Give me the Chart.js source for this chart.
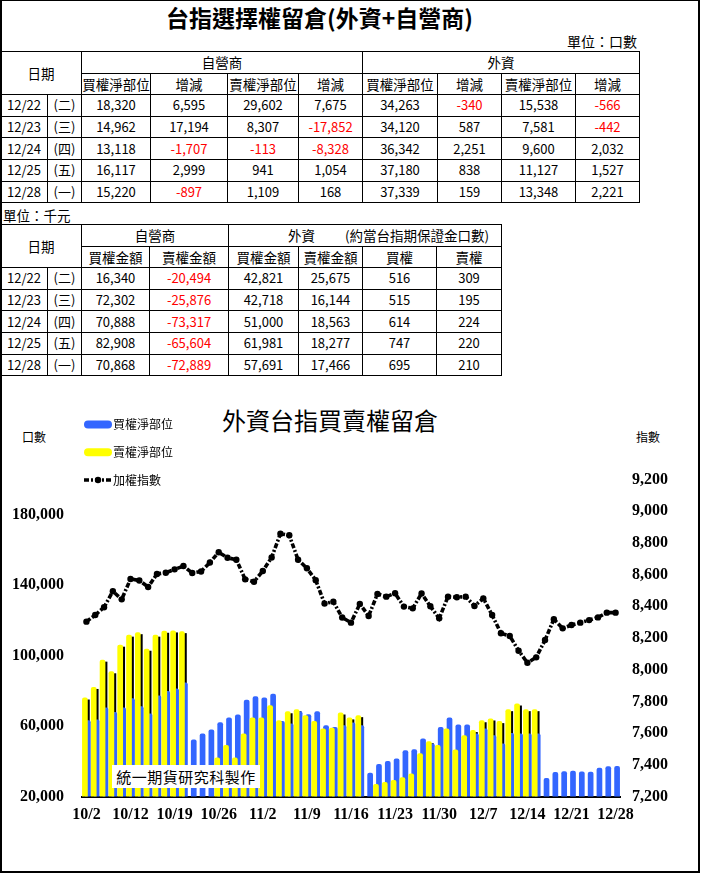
<!DOCTYPE html>
<html>
<head>
<meta charset="utf-8">
<script src="https://cdn.jsdelivr.net/npm/chart.js@4.4.1/dist/chart.umd.min.js"></script>
<style>
  html, body { margin: 0; padding: 0; background: #fff; }
  body { width: 702px; height: 874px; position: relative; overflow: hidden;
         font-family: "Noto Sans CJK TC", "Noto Sans", sans-serif; color: #000; }
  .frame { position: absolute; left: 0; top: 0; width: 696px; height: 870px;
           border: 2px solid #000; border-top-width: 1px; }
  .abs { position: absolute; white-space: nowrap; }
  .title { left: 0; top: 4px; width: 639px; text-align: center; font-size: 23px; font-weight: bold; line-height: 26px; }
  .unit1 { left: 0; top: 32px; width: 637px; text-align: right; font-size: 14px; line-height: 18px; }
  .unit2 { left: 3px; top: 206px; font-size: 13.5px; line-height: 18px; }
  table { position: absolute; left: 0; border-collapse: collapse; table-layout: fixed; font-size: 13px; }
  td { border: 1px solid #000; padding: 0; text-align: center; vertical-align: middle; height: 20.6px; line-height: 14px; white-space: nowrap; overflow: hidden; }
  td.h { font-size: 13.5px; }
  .neg { color: #ff0000; }
  #t1 { top: 51px; width: 640px; }
  #t2 { top: 224px; width: 502px; }
  .ctitle { left: 222px; top: 405px; width: 216px; text-align: center; font-size: 24px; line-height: 30px; }
  .axname { top: 429px; font-size: 12px; line-height: 16px; }
  .stamp { left: 112px; top: 765px; width: 148px; height: 23px; background: #fff; text-align: center;
           font-size: 15px; line-height: 23px; letter-spacing: 0.5px; z-index: 2; }
  #wrap { position: absolute; left: 0; top: 400px; width: 700px; height: 470px; z-index: 1; }
</style>
</head>
<body>
<div class="frame"></div>
<div class="abs title">台指選擇權留倉(外資+自營商)</div>
<div class="abs unit1">單位：口數</div>
<table id="t1">
  <colgroup>
    <col style="width:47px"><col style="width:34px"><col style="width:69px"><col style="width:77px">
    <col style="width:71px"><col style="width:64px"><col style="width:75px"><col style="width:64px">
    <col style="width:74px"><col style="width:64px">
  </colgroup>
  <tbody id="t1body">
    <tr><td class="h" colspan="2" rowspan="2">日期</td><td class="h" colspan="4">自營商</td><td class="h" colspan="4">外資</td></tr>
    <tr><td class="h">買權淨部位</td><td class="h">增減</td><td class="h">賣權淨部位</td><td class="h">增減</td>
        <td class="h">買權淨部位</td><td class="h">增減</td><td class="h">賣權淨部位</td><td class="h">增減</td></tr>
  </tbody>
</table>
<div class="abs unit2">單位：千元</div>
<table id="t2">
  <colgroup>
    <col style="width:47px"><col style="width:34px"><col style="width:68px"><col style="width:79px">
    <col style="width:70px"><col style="width:64px"><col style="width:74px"><col style="width:65px">
  </colgroup>
  <tbody id="t2body">
    <tr><td class="h" colspan="2" rowspan="2">日期</td><td class="h" colspan="2">自營商</td>
        <td class="h" colspan="4" style="text-align:left;padding-left:59px">外資<span style="display:inline-block;width:30px"></span>(約當台指期保證金口數)</td></tr>
    <tr><td class="h">買權金額</td><td class="h">賣權金額</td><td class="h">買權金額</td><td class="h">賣權金額</td>
        <td class="h">買權</td><td class="h">賣權</td></tr>
  </tbody>
</table>

<div class="abs ctitle">外資台指買賣權留倉</div>
<div class="abs axname" style="left:22px">口數</div>
<div class="abs axname" style="left:636px">指數</div>
<div class="abs stamp">統一期貨研究科製作</div>
<div id="wrap"><canvas id="chart" width="700" height="470"></canvas></div>

<script>
// ---- table data (口數) ----
const tableDates = ["12/22", "12/23", "12/24", "12/25", "12/28"];
const tableWeekdays = ["(二)", "(三)", "(四)", "(五)", "(一)"];
const dealerCall = [18320, 14962, 13118, 16117, 15220];
const dealerCallChg = [6595, 17194, -1707, 2999, -897];
const dealerPut = [29602, 8307, -113, 941, 1109];
const dealerPutChg = [7675, -17852, -8328, 1054, 168];
const foreignCall = [34263, 34120, 36342, 37180, 37339];
const foreignCallChg = [-340, 587, 2251, 838, 159];
const foreignPut = [15538, 7581, 9600, 11127, 13348];
const foreignPutChg = [-566, -442, 2032, 1527, 2221];

// ---- table data (千元) ----
const dealerCallAmt = [16340, 72302, 70888, 82908, 70868];
const dealerPutAmt = [-20494, -25876, -73317, -65604, -72889];
const foreignCallAmt = [42821, 42718, 51000, 61981, 57691];
const foreignPutAmt = [25675, 16144, 18563, 18277, 17466];
const foreignCallLots = [516, 515, 614, 747, 695];
const foreignPutLots = [309, 195, 224, 220, 210];

// ---- chart data ----
const dates = [
  "10/2", "10/5", "10/6", "10/7", "10/8", "10/12", "10/13", "10/14", "10/15", "10/16",
  "10/19", "10/20", "10/21", "10/22", "10/23", "10/26", "10/27", "10/28", "10/29", "10/30",
  "11/2", "11/3", "11/4", "11/5", "11/6", "11/9", "11/10", "11/11", "11/12", "11/13",
  "11/16", "11/17", "11/18", "11/19", "11/20", "11/23", "11/24", "11/25", "11/26", "11/27",
  "11/30", "12/1", "12/2", "12/3", "12/4", "12/7", "12/8", "12/9", "12/10", "12/11",
  "12/14", "12/15", "12/16", "12/17", "12/18", "12/21", "12/22", "12/23", "12/24", "12/25",
  "12/28"
];
const xTickLabels = ["10/2", "10/12", "10/19", "10/26", "11/2", "11/9", "11/16", "11/23",
  "11/30", "12/7", "12/14", "12/21", "12/28"];

// 外資買權淨部位
const callNet = [
  63300, 63700, 70500, 68000, 70500, 75800, 71300, 67100, 77300, 79900,
  81300, 84700, 52400, 55800, 58100, 62200, 64900, 66500, 75000, 76900,
  76200, 78400, 62800, 61500, 68400, 66700, 68400, 60500, 59500, 60500,
  62000, 60500, 33500, 38400, 40100, 41600, 46300, 46900, 53000, 50100,
  59500, 64900, 60900, 60900, 55800, 58600, 54800, 50100, 56100, 55800,
  55800, 55800, 30500, 33900, 34300, 34603, 34263, 34120, 36342, 37180,
  37339
];
// 外資賣權淨部位
const putNet = [
  76200, 82200, 97700, 91100, 106200, 111900, 113300, 103900, 111900, 114100,
  114300, 113900, 15000, 14000, 16000, 42200, 49200, 42200, 55800, 64900,
  64900, 71800, 63300, 68400, 69600, 66200, 62800, 58600, 59000, 67700,
  64900, 66200, 18000, 27100, 28200, 29300, 30900, 33100, 44500, 51400,
  49200, 58600, 46700, 54800, 57700, 63300, 64300, 62800, 69600, 72800,
  69600, 69600, 17000, 16000, 14000, 16104, 15538, 7581, 9600, 11127,
  13348
];
// 加權指數
const taiex = [
  8303, 8345, 8394, 8495, 8444, 8572, 8563, 8522, 8604, 8612,
  8633, 8654, 8610, 8620, 8676, 8741, 8706, 8694, 8570, 8555,
  8623, 8708, 8858, 8848, 8694, 8640, 8565, 8417, 8429, 8329,
  8297, 8415, 8339, 8478, 8461, 8482, 8398, 8387, 8481, 8400,
  8324, 8461, 8457, 8461, 8402, 8450, 8345, 8230, 8213, 8120,
  8044, 8078, 8187, 8318, 8261, 8282, 8297, 8313, 8330, 8360,
  8360
];
const leftTicks = [20000, 60000, 100000, 140000, 180000];
const rightTicks = [7200, 7400, 7600, 7800, 8000, 8200, 8400, 8600, 8800, 9000, 9200];

// ---- build tables ----
function fmt(n) {
  return n.toLocaleString("en-US");
}
function cell(n) {
  return `<td${n < 0 ? ' class="neg"' : ""}>${fmt(n)}</td>`;
}
function addRows(bodyId, cols) {
  const body = document.getElementById(bodyId);
  tableDates.forEach((d, i) => {
    const tr = document.createElement("tr");
    tr.innerHTML = `<td>${d}</td><td>${tableWeekdays[i]}</td>` + cols.map((c) => cell(c[i])).join("");
    body.appendChild(tr);
  });
}
addRows("t1body", [dealerCall, dealerCallChg, dealerPut, dealerPutChg,
  foreignCall, foreignCallChg, foreignPut, foreignPutChg]);
addRows("t2body", [dealerCallAmt, dealerPutAmt, foreignCallAmt, foreignPutAmt,
  foreignCallLots, foreignPutLots]);

// ---- chart ----
const tickFont = { family: '"Liberation Serif", serif', size: 16, weight: "bold" };

// black drop shadow of the yellow bars, drawn under the blue ones
const barShadow = {
  id: "barShadow",
  beforeDatasetDraw(chart, args) {
    if (args.index !== 0) return;
    const { ctx, chartArea } = chart;
    const meta = chart.getDatasetMeta(1);
    ctx.save();
    ctx.beginPath();
    ctx.rect(chartArea.left, chartArea.top, chartArea.width, chartArea.height);
    ctx.clip();
    ctx.fillStyle = "#000";
    meta.data.forEach((bar) => {
      const { x, y, base, width } = bar.getProps(["x", "y", "base", "width"], true);
      if (y >= base - 2) return;
      ctx.fillRect(x - width / 2 + 2, y + 2, width, base - y - 2);
    });
    ctx.restore();
  },
};

// legend stacked in the top-left corner
const sideLegend = {
  id: "sideLegend",
  afterDraw(chart) {
    const ctx = chart.ctx;
    const rowY = [24.5, 52.2, 80];
    ctx.save();
    chart.data.datasets.forEach((ds, i) => {
      const y = rowY[i];
      if (ds.type === "bar") {
        ctx.fillStyle = ds.backgroundColor;
        ctx.beginPath();
        ctx.roundRect(84, y - 4, 28, 8, 4);
        ctx.fill();
      } else {
        ctx.strokeStyle = ds.borderColor;
        ctx.lineWidth = ds.borderWidth;
        ctx.setLineDash(ds.borderDash);
        ctx.beginPath();
        ctx.moveTo(84, y);
        ctx.lineTo(112, y);
        ctx.stroke();
        ctx.setLineDash([]);
        ctx.fillStyle = ds.borderColor;
        ctx.beginPath();
        ctx.arc(98, y, ds.pointRadius, 0, Math.PI * 2);
        ctx.fill();
      }
      ctx.fillStyle = "#000";
      ctx.font = '12px "Noto Sans CJK TC"';
      ctx.textBaseline = "middle";
      ctx.fillText(ds.label, 113, y);
    });
    ctx.restore();
  },
};

new Chart(document.getElementById("chart"), {
  data: {
    labels: dates,
    datasets: [
      { type: "bar", label: "買權淨部位", data: callNet, backgroundColor: "#3366ff", yAxisID: "y", order: 3 },
      { type: "bar", label: "賣權淨部位", data: putNet, backgroundColor: "#ffff00", yAxisID: "y", order: 2 },
      {
        type: "line", label: "加權指數", data: taiex, yAxisID: "y1", order: 1,
        borderColor: "#000", borderWidth: 3.6, borderDash: [5, 2, 2, 2], borderCapStyle: "butt",
        pointRadius: 3.2, pointBackgroundColor: "#000", pointBorderWidth: 0, tension: 0,
      },
    ],
  },
  options: {
    responsive: false,
    animation: false,
    layout: { padding: { left: 0, right: 0, top: 79.5, bottom: 0 } },
    plugins: { legend: { display: false }, tooltip: { enabled: false } },
    datasets: {
      bar: {
        categoryPercentage: 0.68,
        barPercentage: 1.9,
        borderRadius: { topLeft: 2, topRight: 2 },
        borderSkipped: "bottom",
        clip: 0,
      },
    },
    scales: {
      x: {
        z: 1,
        grid: { display: false, drawTicks: false },
        border: { display: true, color: "#000", width: 2 },
        ticks: {
          autoSkip: false, maxRotation: 0, padding: 9, color: "#000", font: tickFont,
          callback: (v, i) => (xTickLabels.includes(dates[i]) ? dates[i] : ""),
        },
        afterFit: (s) => { s.height = 73.5; },
      },
      y: {
        position: "left", min: 20000, max: 200000,
        grid: { display: false, drawTicks: false }, border: { display: false },
        afterBuildTicks: (s) => { s.ticks = leftTicks.map((v) => ({ value: v })); },
        ticks: { padding: 18, color: "#000", font: tickFont, callback: (v) => fmt(v) },
        afterFit: (s) => { s.width = 82; },
      },
      y1: {
        position: "right", min: 7200, max: 9200,
        grid: { display: false, drawTicks: false }, border: { display: false },
        afterBuildTicks: (s) => { s.ticks = rightTicks.map((v) => ({ value: v })); },
        ticks: { padding: 12, color: "#000", font: tickFont, callback: (v) => fmt(v) },
        afterFit: (s) => { s.width = 80; },
      },
    },
  },
  plugins: [barShadow, sideLegend],
});
</script>
</body>
</html>
